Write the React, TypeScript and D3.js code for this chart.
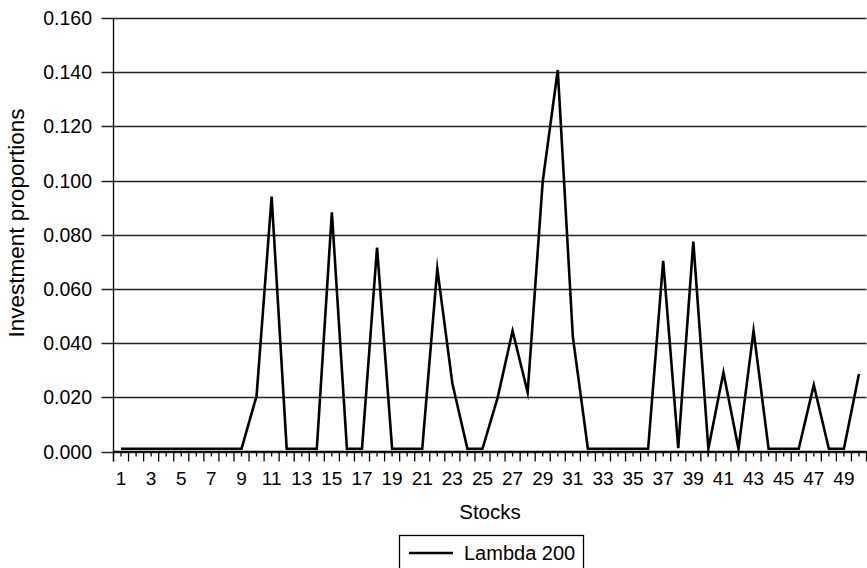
import React from "react";
import * as d3 from "d3";

const stocks: number[] = Array.from({ length: 50 }, (_, i) => i + 1);
const lambda200: number[] = [
  0.001, 0.001, 0.001, 0.001, 0.001, 0.001, 0.001, 0.001, 0.001, 0.0205,
  0.0941, 0.001, 0.001, 0.001, 0.0883, 0.001, 0.001, 0.0753, 0.001, 0.001,
  0.001, 0.0675, 0.0252, 0.001, 0.001, 0.0197, 0.0445, 0.0218, 0.0996, 0.1408,
  0.0424, 0.001, 0.001, 0.001, 0.001, 0.001, 0.0704, 0.00125, 0.0775, 0.001,
  0.0292, 0.001, 0.0446, 0.001, 0.001, 0.001, 0.0246, 0.001, 0.001, 0.0286,
];
const yTicks: number[] = [0, 0.02, 0.04, 0.06, 0.08, 0.1, 0.12, 0.14, 0.16];
const seriesName = "Lambda 200";
const xTitle = "Stocks";
const yTitle = "Investment proportions";

const W = 867;
const H = 568;
const left = 113.5;
const right = 866.5;
const top = 18;
const bottom = 451.5;
const font = "'Liberation Sans', Arial, sans-serif";

export default function App() {
  const x = d3.scaleBand<number>().domain(stocks).range([left, right]).padding(0);
  const y = d3.scaleLinear().domain([0, 0.16]).range([bottom, top]);
  const cx = (d: number) => (x(d) as number) + x.bandwidth() / 2;
  const line = d3
    .line<number>()
    .x((_, i) => cx(stocks[i]))
    .y((v) => y(v));

  const boundaries = stocks.map((d) => x(d) as number).concat([right]);

  return (
    <svg
      width={W}
      height={H}
      style={{ position: "absolute", left: 0, top: 0, background: "#fff" }}
      fontFamily={font}
    >
      <rect x={0} y={0} width={W} height={H} fill="#fff" />
      {yTicks.map((t) => (
        <g key={t}>
          <line x1={left - 12} x2={right} y1={Math.round(y(t)) + 0.5} y2={Math.round(y(t)) + 0.5} stroke="#222" strokeWidth={1.3} />
          <text x={92} y={y(t) + 7} fontSize={19.5} textAnchor="end" fill="#000">
            {t.toFixed(3)}
          </text>
        </g>
      ))}
      <line x1={left} x2={left} y1={top} y2={bottom + 10} stroke="#000" strokeWidth={1.3} />
      <line x1={left} x2={right} y1={bottom} y2={bottom} stroke="#000" strokeWidth={1.3} />
      {boundaries.map((b, i) => (
        <line key={"b" + i} x1={b} x2={b} y1={bottom} y2={bottom + 10} stroke="#000" strokeWidth={1.3} />
      ))}
      {stocks.map((d) => (
        <line key={"c" + d} x1={cx(d)} x2={cx(d)} y1={bottom} y2={bottom + 5} stroke="#000" strokeWidth={1.3} />
      ))}
      {stocks
        .filter((d) => d % 2 === 1)
        .map((d) => (
          <text key={"l" + d} x={cx(d)} y={485} fontSize={19} textAnchor="middle" fill="#000">
            {d}
          </text>
        ))}
      <path d={line(lambda200) || ""} fill="none" stroke="#000" strokeWidth={2.6} strokeLinejoin="miter" strokeMiterlimit={10} />
      <text x={(left + right) / 2} y={519} fontSize={20.5} textAnchor="middle" fill="#000">
        {xTitle}
      </text>
      <text
        transform={`translate(24, 223) rotate(-90)`}
        fontSize={22.5}
        textAnchor="middle"
        fill="#000"
      >
        {yTitle}
      </text>
      <rect x={399.5} y={535.5} width={184} height={40} fill="#fff" stroke="#000" strokeWidth={1.3} />
      <line x1={409} x2={453} y1={553} y2={553} stroke="#000" strokeWidth={2.6} />
      <text x={464} y={560} fontSize={20} fill="#000">
        {seriesName}
      </text>
    </svg>
  );
}
